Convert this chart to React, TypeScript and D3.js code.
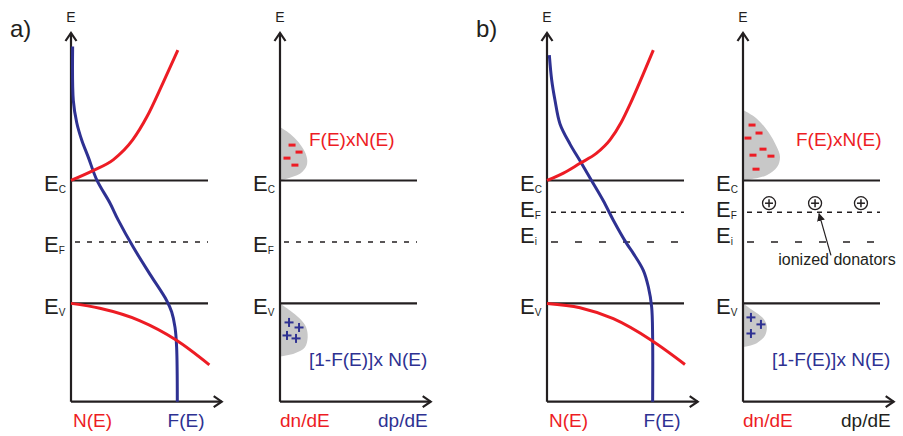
import React from 'react';
import * as d3 from 'd3';

// energy units: Ev = 0, Ec = 1 ; x units: 1 = length of the level lines
const nUpperA = [[0, 1.0], [0.16, 1.08], [0.31, 1.17], [0.45, 1.33], [0.555, 1.52], [0.67, 1.79], [0.78, 2.06]];
const nLowerA = [[0, 0], [0.21, -0.04], [0.5, -0.14], [0.77, -0.3], [1.01, -0.5]];
const fermiA = [[0.012, 2.09], [0.017, 1.65], [0.042, 1.47], [0.078, 1.33], [0.126, 1.19], [0.188, 1.005], [0.285, 0.815], [0.345, 0.677], [0.455, 0.456], [0.577, 0.236], [0.698, 0.024], [0.735, -0.07], [0.759, -0.193], [0.771, -0.356], [0.776, -0.8]];

const nUpperB = [[0, 1.0], [0.12, 1.06], [0.241, 1.14], [0.36, 1.22], [0.46, 1.33], [0.54, 1.47], [0.61, 1.63], [0.7, 1.86], [0.776, 2.06]];
const nLowerB = [[0, 0], [0.241, -0.035], [0.484, -0.125], [0.764, -0.302], [1.007, -0.497]];
const fermiB = [[0.017, 2.02], [0.034, 1.82], [0.058, 1.655], [0.095, 1.46], [0.168, 1.296], [0.241, 1.16], [0.326, 0.998], [0.411, 0.835], [0.484, 0.677], [0.582, 0.486], [0.631, 0.405], [0.703, 0.269], [0.74, 0.133], [0.764, -0.03], [0.771, -0.275], [0.771, -0.8]];

const electronDistA = [[0, 1.435], [0.073, 1.381], [0.134, 1.313], [0.182, 1.231], [0.199, 1.163], [0.19, 1.109], [0.146, 1.055], [0.049, 1.015], [0, 1.0]];
const holeDistA = [[0, 0], [0.073, -0.057], [0.146, -0.125], [0.19, -0.193], [0.202, -0.275], [0.182, -0.356], [0.109, -0.405], [0, -0.432]];
const electronDistB = [[0, 1.573], [0.099, 1.505], [0.184, 1.396], [0.246, 1.274], [0.27, 1.193], [0.25, 1.111], [0.173, 1.043], [0.051, 1.008], [0, 1.0]];
const holeDistB = [[0, 0], [0.073, -0.057], [0.144, -0.117], [0.173, -0.179], [0.161, -0.261], [0.1, -0.324], [0, -0.356]];

const electronsA = [[0.088, 1.288], [0.139, 1.231], [0.051, 1.182], [0.109, 1.125]];
const holesA = [[0.066, -0.155], [0.139, -0.196], [0.051, -0.261], [0.117, -0.285]];
const electronsB = [[0.066, 1.451], [0.117, 1.386], [0.036, 1.345], [0.146, 1.255], [0.073, 1.206], [0.204, 1.198], [0.095, 1.092]];
const holesB = [[0.058, -0.114], [0.131, -0.171], [0.058, -0.245]];
const donorsB = [[0.19, 0.815], [0.526, 0.815], [0.861, 0.815]];

const levelsA = [
  { sub: 'C', e: 1, dashed: false, dy: 11 },
  { sub: 'F', e: 0.5, dashed: true, dy: 10 },
  { sub: 'V', e: 0, dashed: false, dy: 11 },
];
const levelsB = [
  { sub: 'C', e: 1, dashed: false, dy: 11 },
  { sub: 'F', e: 0.742, dashed: true, dy: 5, dash: '5,5' },
  { sub: 'i', e: 0.5, dashed: true, dy: 1, dash: '7,17' },
  { sub: 'V', e: 0, dashed: false, dy: 11 },
];

const RED = '#ed1c24';
const BLUE = '#2e3192';
const INK = '#231f20';
const GRAY = '#c8c8c8';
const FONT = '"Liberation Sans", Arial, Helvetica, sans-serif';

const yE = d3.scaleLinear().domain([-0.8, 2.2]).range([401.7, 33]);
const UNIT = 137;

function Axes({ xs }) {
  const x0 = xs(0);
  const yTop = yE(2.2);
  const yBot = yE(-0.8);
  const xEnd = xs(1.1);
  return (
    <g stroke={INK} strokeWidth={2.2} fill="none">
      <line x1={x0} y1={yBot} x2={x0} y2={yTop} />
      <line x1={x0} y1={yBot} x2={xEnd} y2={yBot} />
      <polyline points={`${x0 - 5.5},${yTop + 8} ${x0},${yTop} ${x0 + 5.5},${yTop + 8}`} />
      <polyline points={`${xEnd - 8},${yBot - 5.5} ${xEnd},${yBot} ${xEnd - 8},${yBot + 5.5}`} />
    </g>
  );
}

function Levels({ xs, levels }) {
  const x0 = xs(0);
  return (
    <g>
      {levels.map((l) => (
        <g key={l.sub}>
          {l.dashed ? (
            <line x1={x0 + 4} x2={xs(1)} y1={yE(l.e)} y2={yE(l.e)} stroke={INK} strokeWidth={1.4} strokeDasharray={l.dash || '5,7'} />
          ) : (
            <line x1={x0} x2={xs(1)} y1={yE(l.e)} y2={yE(l.e)} stroke={INK} strokeWidth={2.2} />
          )}
          <text x={x0 - 27} y={yE(l.e) + l.dy} fontFamily={FONT} fill={INK} fontSize={22}>
            E<tspan fontSize={10} dy={2}>{l.sub}</tspan>
          </text>
        </g>
      ))}
      <text x={x0} y={22} textAnchor="middle" fontFamily={FONT} fill={INK} fontSize={14}>E</text>
    </g>
  );
}

function curve(xs, pts, closed = false, factory: any = d3.curveCatmullRom.alpha(0.5)) {
  const gen = d3.line<number[]>()
    .x((d) => xs(d[0]))
    .y((d) => yE(d[1]))
    .curve(factory);
  return gen(pts) + (closed ? 'Z' : '');
}

function Electrons({ xs, pts }) {
  return (
    <g fill={RED}>
      {pts.map((p, i) => (
        <rect key={i} x={xs(p[0]) - 3.5} y={yE(p[1]) - 1.5} width={7} height={3} />
      ))}
    </g>
  );
}

function Holes({ xs, pts }) {
  return (
    <g stroke={BLUE} strokeWidth={2}>
      {pts.map((p, i) => {
        const cx = xs(p[0]);
        const cy = yE(p[1]);
        return (
          <g key={i}>
            <line x1={cx - 4.5} x2={cx + 4.5} y1={cy} y2={cy} />
            <line x1={cx} x2={cx} y1={cy - 4.5} y2={cy + 4.5} />
          </g>
        );
      })}
    </g>
  );
}

function Donors({ xs, pts }) {
  return (
    <g stroke={INK} strokeWidth={1.3} fill="white">
      {pts.map((p, i) => {
        const cx = xs(p[0]);
        const cy = yE(p[1]);
        return (
          <g key={i}>
            <circle cx={cx} cy={cy} r={6.5} />
            <line x1={cx - 4} x2={cx + 4} y1={cy} y2={cy} strokeWidth={1.5} />
            <line x1={cx} x2={cx} y1={cy - 4} y2={cy + 4} strokeWidth={1.5} />
          </g>
        );
      })}
    </g>
  );
}

function DensityPanel({ x0, nUp, nLow, fermi, levels }) {
  const xs = d3.scaleLinear().domain([0, 1]).range([x0, x0 + UNIT]);
  return (
    <g>
      <Levels xs={xs} levels={levels} />
      <Axes xs={xs} />
      <path d={curve(xs, fermi)} fill="none" stroke={BLUE} strokeWidth={3} />
      <path d={curve(xs, nUp, false, d3.curveMonotoneX)} fill="none" stroke={RED} strokeWidth={3} />
      <path d={curve(xs, nLow, false, d3.curveMonotoneX)} fill="none" stroke={RED} strokeWidth={3} />
      <text x={xs(0.015)} y={427} fontFamily={FONT} fontSize={19} fill={RED}>N(E)</text>
      <text x={xs(0.705)} y={427} fontFamily={FONT} fontSize={19} fill={BLUE}>F(E)</text>
    </g>
  );
}

function CarrierPanel({ x0, eDist, hDist, electrons, holes, levels, dpColor, fnLabelX, children }) {
  const xs = d3.scaleLinear().domain([0, 1]).range([x0, x0 + UNIT]);
  return (
    <g>
      <path d={curve(xs, eDist, true)} fill={GRAY} />
      <path d={curve(xs, hDist, true)} fill={GRAY} />
      <Levels xs={xs} levels={levels} />
      <Axes xs={xs} />
      <Electrons xs={xs} pts={electrons} />
      <Holes xs={xs} pts={holes} />
      {children && children(xs)}
      <text x={x0 + fnLabelX} y={146} fontFamily={FONT} fontSize={19} fill={RED}>F(E)xN(E)</text>
      <text x={x0 + 29} y={366} fontFamily={FONT} fontSize={19} fill={BLUE}>[1-F(E)]x N(E)</text>
      <text x={x0} y={427} fontFamily={FONT} fontSize={19} fill={RED}>dn/dE</text>
      <text x={x0 + 98} y={427} fontFamily={FONT} fontSize={19} fill={dpColor}>dp/dE</text>
    </g>
  );
}

export default function App() {
  return (
    <svg width={903} height={436} style={{ position: 'absolute', left: 0, top: 0, background: 'white' }}>
      <text x={10} y={37} fontFamily={FONT} fontSize={24} fill={INK}>a)</text>
      <text x={476} y={37} fontFamily={FONT} fontSize={24} fill={INK}>b)</text>

      <DensityPanel x0={71} nUp={nUpperA} nLow={nLowerA} fermi={fermiA} levels={levelsA} />
      <CarrierPanel x0={280} eDist={electronDistA} hDist={holeDistA} electrons={electronsA} holes={holesA} levels={levelsA} dpColor={BLUE} fnLabelX={29} />

      <DensityPanel x0={547} nUp={nUpperB} nLow={nLowerB} fermi={fermiB} levels={levelsB} />
      <CarrierPanel x0={743} eDist={electronDistB} hDist={holeDistB} electrons={electronsB} holes={holesB} levels={levelsB} dpColor={INK} fnLabelX={53}>
        {(xs) => (
          <g>
            <Donors xs={xs} pts={donorsB} />
            <defs>
              <marker id="donorArrow" viewBox="0 0 10 10" refX="9" refY="5" markerWidth="8" markerHeight="8" markerUnits="userSpaceOnUse" orient="auto">
                <path d="M0,0 L10,5 L0,10 Z" fill={INK} />
              </marker>
            </defs>
            <line x1={xs(0.642)} y1={yE(0.39)} x2={xs(0.555)} y2={yE(0.73)} stroke={INK} strokeWidth={1.2} markerEnd="url(#donorArrow)" />
            <text x={xs(0.686)} y={265} textAnchor="middle" fontFamily={FONT} fontSize={16} fill={INK}>ionized donators</text>
          </g>
        )}
      </CarrierPanel>
    </svg>
  );
}
